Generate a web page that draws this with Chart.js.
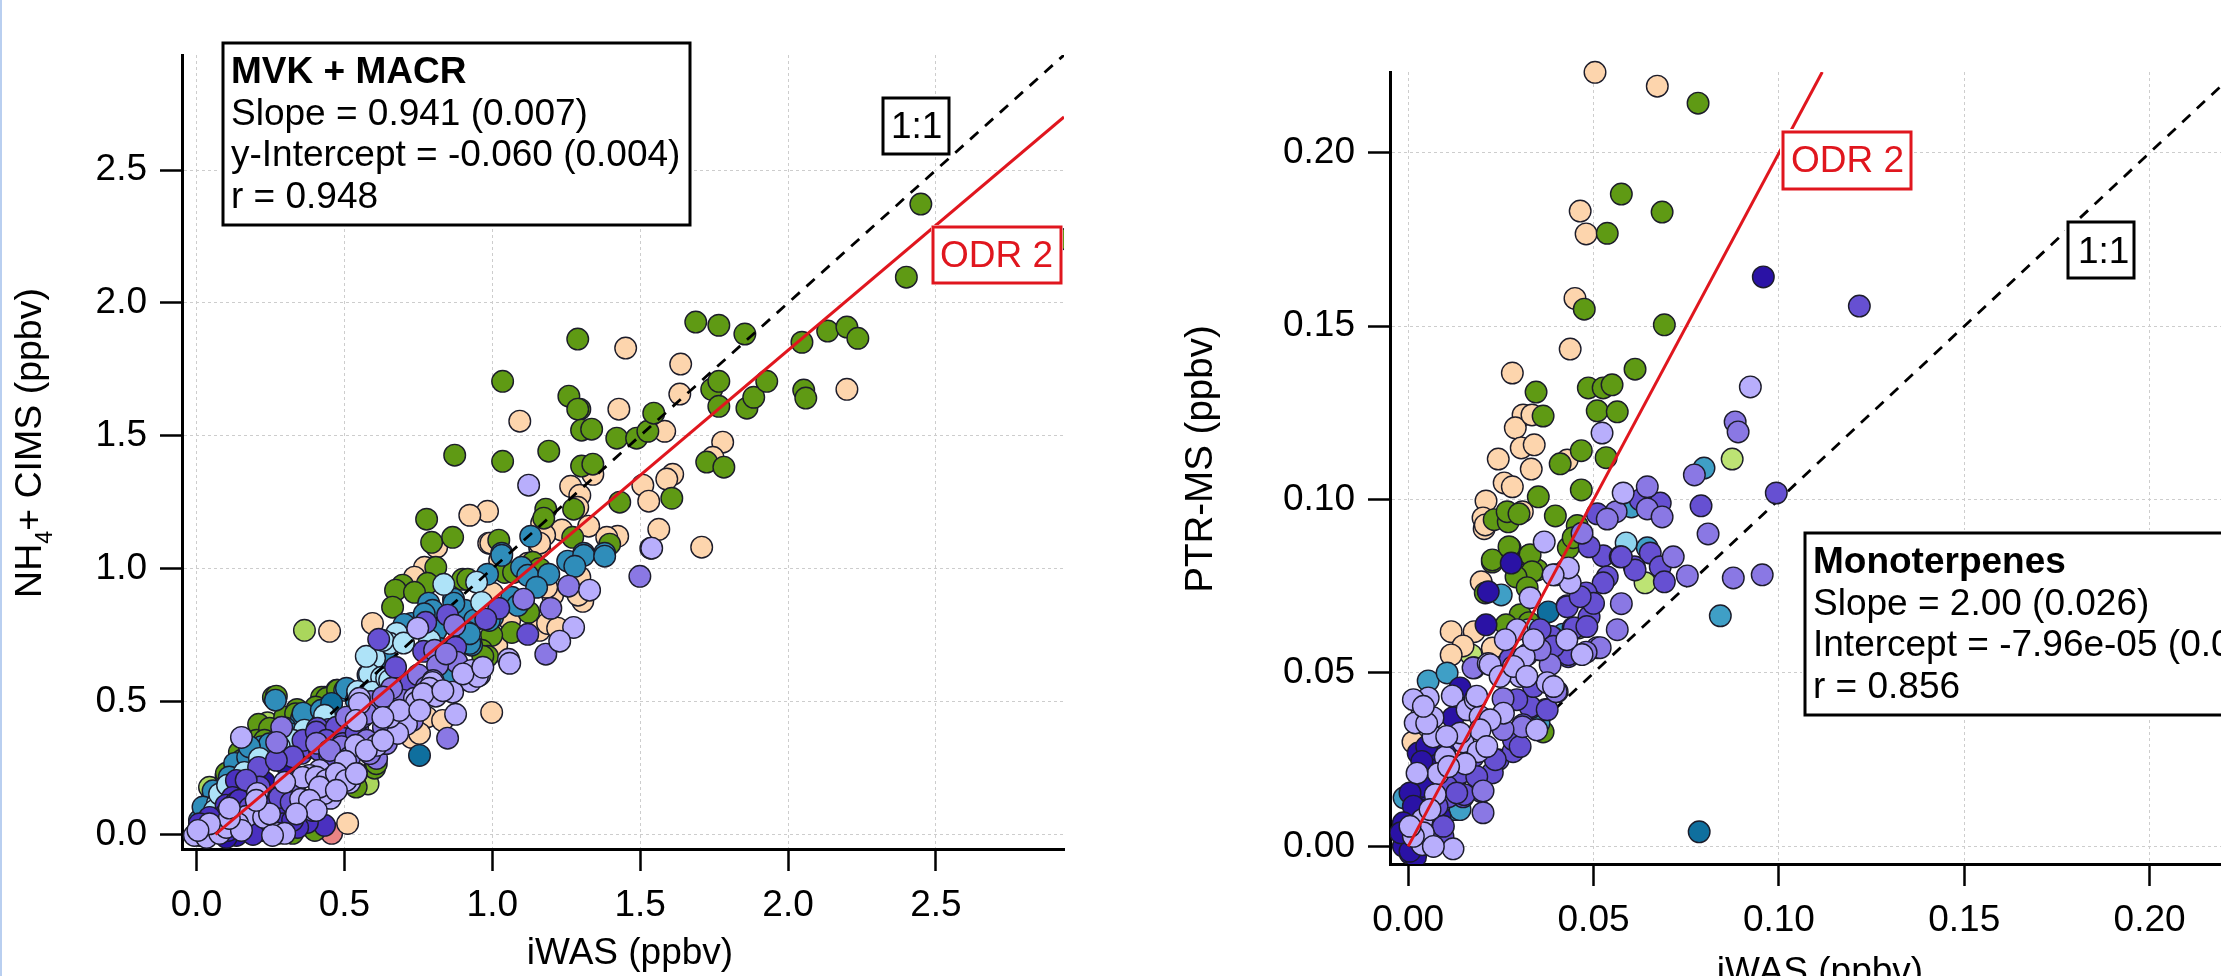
<!DOCTYPE html>
<html>
<head>
<meta charset="utf-8">
<title>iWAS comparison</title>
<script src="https://cdn.jsdelivr.net/npm/chart.js@4/dist/chart.umd.min.js"></script>
<style>
  html, body { margin: 0; padding: 0; width: 2221px; height: 976px; overflow: hidden; background: #fff; }
  canvas { position: absolute; top: 0; }
  #left-panel { left: 0; }
  #right-panel { left: 1130px; }
  #page-edge { position: absolute; left: 0; top: 0; width: 2px; height: 976px; background: #b9cff0; z-index: 2; }
</style>
</head>
<body>
<div id="page-edge"></div>
<canvas id="left-panel" width="1100" height="976"></canvas>
<canvas id="right-panel" width="1200" height="1020"></canvas>
<script>
// Left panel: MVK + MACR, [iWAS, NH4+ CIMS] in ppbv
const leftPink = [[0.0,0.004]];
const leftSalmon = [[0.457,0.004]];
const leftLightGreen = [[0.365,0.768],[0.044,0.177],[0.10,0.22],[0.17,0.34],[0.24,0.42],[0.58,0.19]];
const leftPeach = [[1.451,1.83],[1.637,1.77],[1.634,1.657],[1.428,1.6],[1.093,1.555],[1.583,1.517],[2.199,1.675],
  [1.779,1.476],[1.746,1.419],[1.34,1.355],[1.265,1.31],[1.296,1.276],[0.984,1.216],[1.509,1.314],[1.61,1.355],
  [1.59,1.337],[1.529,1.254],[1.289,1.231],[1.167,1.171],[1.235,1.145],[1.177,1.126],[1.326,1.16],[1.424,1.122],
  [1.387,1.118],[1.563,1.148],[1.708,1.081],[0.988,1.096],[1.16,1.081],[0.45,0.764],[0.924,1.201],[1.16,1.096],
  [0.995,1.096],[0.812,1.081],[0.771,1.005],[0.737,0.968],[0.595,0.794],[1.306,0.877],[1.296,0.968],[1.204,0.9],
  [1.184,0.93],[1.16,0.768],[1.187,0.794],[1.221,0.776],[1.059,0.806],[1.015,0.712],[1.001,0.907],[1.025,1.032],
  [0.998,0.459],[0.511,0.041],[0.778,0.441],[0.832,0.429],[0.727,0.365],[0.754,0.38],[1.29,0.90],[1.12,1.02]];
const leftGreen = [[1.289,1.864],[1.035,1.705],[1.688,1.928],[1.766,1.916],[1.854,1.883],[2.047,1.852],[2.134,1.894],
  [2.199,1.909],[2.236,1.867],[1.259,1.649],[1.296,1.6],[1.289,1.6],[1.302,1.521],[1.336,1.525],[1.421,1.491],
  [1.488,1.491],[1.526,1.517],[1.546,1.585],[1.035,1.404],[1.191,1.442],[1.302,1.386],[1.34,1.393],[1.742,1.675],
  [1.766,1.705],[1.766,1.611],[1.861,1.604],[1.884,1.645],[1.928,1.705],[2.053,1.672],[2.06,1.642],[1.725,1.401],
  [1.783,1.382],[1.607,1.265],[1.431,1.25],[1.181,1.224],[1.174,1.19],[1.275,1.224],[1.272,1.118],[1.022,1.107],
  [1.397,1.092],[2.449,2.372],[2.40,2.097],[2.943,2.24],[0.873,1.427],[0.778,1.186],[0.795,1.099],[0.866,1.118],
  [0.809,1.005],[0.781,0.945],[0.697,0.938],[0.673,0.919],[0.737,0.911],[0.663,0.855],[0.90,0.96],[0.917,0.96],
  [1.137,1.024],[1.16,1.0],[1.042,0.986],[1.072,0.986],[1.123,0.836],[1.066,0.76],[0.998,0.749],[0.964,0.693],
  [0.984,0.67],[0.433,0.516],[0.474,0.542],[0.26,0.516],[0.21,0.414],[0.298,0.441],[0.203,0.354],[0.247,0.399],
  [0.145,0.309],[0.101,0.23],[0.423,0.516],[0.44,0.512],[0.477,0.542],[0.372,0.448],[0.602,0.249],[0.535,0.192],
  [0.4,0.015],[0.325,0.004],[0.27,0.52],[0.34,0.47],[0.335,0.454],[0.403,0.479],[0.23,0.354],[0.153,0.279],
  [0.12,0.204],[0.968,0.67],[0.608,0.266],[0.54,0.178]];
const leftTeal = [[1.13,1.122],[1.032,1.058],[1.309,1.058],[1.38,1.058],[1.032,1.05],[0.984,0.979],[1.099,1.005],
  [1.12,0.975],[1.191,0.979],[1.15,0.93],[1.255,1.028],[1.309,1.05],[1.279,1.009],[1.38,1.047],[1.066,0.892],
  [1.086,0.862],[0.785,0.87],[0.869,0.885],[0.798,0.843],[0.907,0.843],[0.94,0.806],[1.001,0.817],[0.917,0.76],
  [0.93,0.712],[0.731,0.787],[0.501,0.542],[0.267,0.505],[0.129,0.267],[0.173,0.29],[0.355,0.437],[0.389,0.422],
  [0.507,0.55],[0.088,0.173],[0.051,0.128],[0.01,0.053],[0.727,0.794],[0.924,0.719],[0.866,0.606],[0.64,0.66],
  [0.58,0.60],[0.22,0.33],[0.30,0.40],[0.36,0.456],[0.422,0.467],[0.315,0.379],[0.247,0.341],[0.179,0.329],
  [0.111,0.216],[0.056,0.164],[0.022,0.103],[0.54,0.504],[0.608,0.567],[0.702,0.79],[0.77,0.83],[0.87,0.87],
  [0.81,0.767],[0.923,0.755],[0.99,0.805]];
const leftDarkTeal = [[0.754,0.297],[0.457,0.493],[0.82,0.70],[0.55,0.47]];
const leftLightBlue = [[0.836,0.941],[0.947,0.949],[0.964,0.873],[0.677,0.757],[0.653,0.719],[0.602,0.663],[0.585,0.602],
  [0.626,0.591],[0.545,0.535],[0.595,0.531],[0.788,0.73],[0.433,0.448],[0.365,0.392],[0.325,0.354],[0.213,0.286],
  [0.162,0.233],[0.545,0.538],[0.595,0.535],[0.071,0.117],[0.061,0.09],[0.643,0.587],[0.63,0.73],[0.574,0.67],
  [0.70,0.72],[0.653,0.58],[0.078,0.152],[0.105,0.185],[0.28,0.33]];
const leftDarkBlue = [[0.298,0.267],[0.491,0.29],[0.23,0.196],[0.196,0.192],[0.223,0.015],[0.135,-0.004],[0.257,0.128],
  [0.101,-0.011],[0.179,0.139],[0.24,0.11],[0.16,0.06],[0.20,0.09]];
const leftIndigo = [[0.433,0.034],[0.375,0.045],[0.342,0.026],[0.304,0.064],[0.281,0.079],[0.135,0.203],[0.122,0.139],
  [0.10,0.11],[0.16,0.07],[0.21,0.05],[0.26,0.03],[0.247,0.139],[0.292,0.09],[0.134,0.12],[0.1,0.077],[0.179,0.099],
  [0.247,0.04],[0.292,0.04],[0.325,0.053],[0.191,0.0],[0.107,0.015],[0.044,0.064],[0.01,0.04],[0.145,0.128]];
const leftViolet = [[0.616,0.734],[0.849,0.825],[1.022,0.851],[0.978,0.81],[1.12,0.753],[0.876,0.704],[0.768,0.689],
  [0.673,0.629],[0.724,0.569],[0.775,0.798],[0.447,0.395],[0.355,0.305],[0.21,0.252],[0.409,0.399],[0.484,0.38],
  [0.545,0.399],[0.382,0.328],[0.416,0.316],[0.281,0.139],[0.32,0.12],[0.24,0.06],[0.18,0.10],[0.45,0.30],
  [0.36,0.354],[0.405,0.385],[0.473,0.403],[0.439,0.354],[0.495,0.342],[0.54,0.38],[0.326,0.292],[0.27,0.279],
  [0.213,0.178],[0.168,0.204]];
const leftPurple = [[1.258,0.934],[1.106,0.885],[1.198,0.851],[1.499,0.971],[1.181,0.678],[0.805,0.693],[0.88,0.648],
  [0.815,0.636],[0.873,0.787],[0.849,0.362],[0.288,0.403],[0.271,0.346],[0.646,0.474],[0.632,0.403],[0.697,0.505],
  [0.609,0.286],[0.541,0.23],[0.507,0.441],[0.575,0.354],[0.406,0.343],[0.372,0.102],[0.392,0.09],[0.56,0.44],
  [0.75,0.60],[0.66,0.55],[0.59,0.50],[0.49,0.33],[0.34,0.20],[0.45,0.316],[0.518,0.29],[0.586,0.304],[0.642,0.342],
  [0.686,0.403],[0.73,0.429],[0.8,0.579],[0.844,0.679],[0.777,0.554],[0.698,0.441],[0.631,0.517],[0.574,0.454]];
const leftLavender = [[1.536,1.077],[1.123,1.314],[1.539,1.077],[1.329,0.919],[1.275,0.779],[1.228,0.727],[1.055,0.659],
  [1.059,0.644],[0.927,0.576],[0.93,0.617],[0.957,0.599],[0.866,0.535],[0.798,0.572],[0.809,0.523],[0.748,0.776],
  [0.788,0.55],[0.737,0.512],[0.551,0.512],[0.152,0.365],[0.551,0.493],[0.744,0.497],[0.809,0.52],[0.95,0.595],
  [0.71,0.414],[0.876,0.452],[0.68,0.38],[0.609,0.335],[0.538,0.335],[0.504,0.275],[0.416,0.241],[0.382,0.222],
  [0.359,0.215],[0.46,0.215],[0.298,0.196],[0.352,0.132],[0.453,0.136],[0.433,0.154],[0.518,0.196],[0.206,0.154],
  [0.169,0.068],[0.227,0.064],[0.139,0.041],[0.054,0.015],[0.02,0.004],[0.01,-0.004],[-0.007,-0.004],[0.034,-0.011],
  [0.078,0.004],[0.101,0.026],[0.152,0.015],[0.274,0.004],[0.298,0.004],[0.257,-0.004],[0.405,0.216],[0.439,0.203],
  [0.473,0.229],[0.506,0.203],[0.54,0.229],[0.574,0.316],[0.63,0.354],[0.653,0.441],[0.686,0.467],[0.766,0.529],
  [0.833,0.541],[0.901,0.604],[0.968,0.629],[0.755,0.467],[0.63,0.44],[0.54,0.429],[0.416,0.178],[0.473,0.166],
  [0.382,0.128],[0.405,0.09],[0.338,0.077],[0.247,0.077],[0.202,0.128],[0.111,0.06],[0.111,0.099],[0.044,0.04],
  [0.005,0.015]];
const leftOneToOne = [[0.0,0.0],[2.933,2.933]];
const leftOdr = [[0.064,0.0],[2.933,2.70]];
const leftXTicks = [0, 0.5, 1.0, 1.5, 2.0, 2.5];
const leftYTicks = [0, 0.5, 1.0, 1.5, 2.0, 2.5];

// Right panel: Monoterpenes, [iWAS, PTR-MS] in ppbv
const rightLightGreen = [[0.0874,0.1117],[0.0639,0.076],[0.017,0.0552],[0.0371,0.0395],[0.046,0.063]];
const rightPeach = [[0.0504,0.2232],[0.0672,0.2192],[0.0464,0.1832],[0.048,0.1766],[0.045,0.158],[0.0437,0.1434],[0.0281,0.1365],
  [0.031,0.1244],[0.0289,0.1207],[0.0305,0.1149],[0.034,0.1158],[0.0243,0.1117],[0.0332,0.1088],[0.0429,0.1114],
  [0.0259,0.1048],[0.0281,0.1037],[0.021,0.0996],[0.0308,0.0965],[0.0205,0.0916],[0.0202,0.0947],[0.0334,0.1244],
  [0.0208,0.0927],[0.0197,0.0763],[0.0116,0.0619],[0.0178,0.0619],[0.0148,0.0578],[0.0116,0.0552],[0.0227,0.0572],
  [0.0013,0.0301]];
const rightGreen = [[0.0782,0.2143],[0.0575,0.1881],[0.0685,0.1829],[0.0537,0.1768],[0.0475,0.1549],[0.0691,0.1504],[0.0612,0.1376],
  [0.0345,0.131],[0.0486,0.1322],[0.0526,0.1322],[0.055,0.1331],[0.0364,0.1241],[0.051,0.1256],[0.0564,0.1253],
  [0.0467,0.1141],[0.0534,0.1121],[0.041,0.1103],[0.0351,0.1008],[0.0467,0.1028],[0.0397,0.0953],[0.0456,0.0925],
  [0.0232,0.0942],[0.027,0.0936],[0.0267,0.0965],[0.0299,0.0959],[0.0432,0.0861],[0.0445,0.089],[0.0275,0.0861],
  [0.0326,0.0838],[0.0227,0.082],[0.0348,0.0797],[0.0208,0.0731],[0.0227,0.0826],[0.0329,0.0841],[0.0272,0.0864],
  [0.0334,0.0792],[0.0291,0.0777],[0.0321,0.0746],[0.0302,0.0668],[0.0264,0.0639],[0.0326,0.0645],[0.0364,0.033]];
const rightTeal = [[0.0798,0.1091],[0.0602,0.0979],[0.0645,0.0861],[0.0842,0.0665],[0.0251,0.0725],[0.0054,0.0477],[0.0105,0.05],
  [0.0178,0.0515],[0.0353,0.0356],[-0.0011,0.014],[0.0127,0.0106],[0.0418,0.0612],[0.014,0.0106]];
const rightDarkTeal = [[0.0785,0.0042],[0.0378,0.0676],[0.0,0.006]];
const rightLightBlue = [[0.0588,0.0875],[0.0325,0.0625]];
const rightDarkBlue = [[0.0958,0.1642],[0.0278,0.0817],[0.0216,0.0734],[0.021,0.0639],[0.0121,0.0371],[0.014,0.0457],[0.0051,0.0258],
  [0.01,0.0284],[0.0027,0.0269],[0.0059,0.0221],[0.0024,0.0135],[0.0051,0.0163],[0.0086,0.0086],[0.0027,0.0106],
  [-0.001,0.002],[0.0005,-0.002],[0.002,-0.003],[-0.0005,0.005],[0.001,0.008],[0.0041,0.0173],[0.0005,0.0154],
  [0.0014,0.0116],[-0.0013,0.0068],[-0.0013,0.0001],[0.0005,-0.0014],[-0.002,0.0039],[0.005,0.0288],[0.0037,0.0245]];
const rightViolet = [[0.1217,0.1558],[0.0993,0.1019],[0.079,0.0982],[0.051,0.0959],[0.068,0.099],[0.0626,0.0999],[0.0653,0.0846],
  [0.0526,0.0838],[0.0572,0.0835],[0.0488,0.0864],[0.061,0.0806],[0.068,0.0806],[0.0691,0.0763],[0.0612,0.0797],
  [0.0575,0.0835],[0.0537,0.0777],[0.0526,0.076],[0.048,0.0731],[0.0429,0.0694],[0.0332,0.04],[0.0432,0.0547],
  [0.0388,0.0604],[0.0445,0.063],[0.0429,0.0691],[0.0243,0.025],[0.0227,0.0212],[0.0148,0.0143],[0.0283,0.0273],
  [0.0108,0.0143],[0.0094,0.0028],[0.0127,0.0193],[0.0321,0.0553],[0.0378,0.0567],[0.0432,0.0553],[0.0386,0.0605],
  [0.0448,0.063],[0.0488,0.0662],[0.0264,0.0422],[0.0329,0.0403],[0.031,0.0351],[0.0375,0.0394],[0.0235,0.025],
  [0.0197,0.0158],[0.0151,0.0149],[0.0176,0.0259],[0.014,0.0211],[0.0185,0.0201],[0.0104,0.0173],[0.0078,0.0116],
  [0.0131,0.0154],[0.0059,0.0039],[0.0095,0.0058],[0.0284,0.0307],[0.0302,0.0288],[0.0338,0.0461],[0.0293,0.0423],
  [0.0275,0.054],[0.0356,0.0625],[0.0392,0.0577],[0.0482,0.0634],[0.05,0.0701],[0.0464,0.072]];
const rightPurple = [[0.0882,0.1224],[0.089,0.1195],[0.0772,0.1071],[0.0645,0.1037],[0.0561,0.0965],[0.0537,0.0944],[0.0645,0.0973],
  [0.0685,0.095],[0.0809,0.0901],[0.0715,0.0835],[0.0469,0.0903],[0.0955,0.0783],[0.0877,0.0774],[0.0575,0.07],
  [0.0564,0.0625],[0.0753,0.078],[0.051,0.0573],[0.0402,0.0446],[0.0383,0.0524],[0.0308,0.0345],[0.0256,0.0426],
  [0.0202,0.016],[0.0202,0.0097],[0.0256,0.0337],[0.0356,0.0567],[0.0175,0.0515],[0.0518,0.0573],[0.048,0.056],
  [0.0399,0.0446]];
const rightLavender = [[0.0923,0.1325],[0.0523,0.1192],[0.058,0.1019],[0.0367,0.0878],[0.0397,0.0783],[0.0426,0.0797],[0.0437,0.076],
  [0.0432,0.0803],[0.0329,0.0717],[0.0391,0.0783],[0.0294,0.0625],[0.0262,0.0596],[0.0313,0.0547],[0.0216,0.0527],
  [0.0302,0.049],[0.0375,0.0472],[0.0119,0.0434],[0.0054,0.0428],[0.0038,0.0385],[0.0019,0.0356],[0.0067,0.0371],
  [0.0159,0.0394],[0.0181,0.0423],[0.0194,0.0374],[0.0067,0.0316],[0.01,0.0258],[0.0148,0.0301],[0.0189,0.0273],
  [0.0154,0.0238],[0.0081,0.021],[0.0073,0.0149],[0.0038,0.0077],[0.0038,0.0005],[0.0121,-0.0007],[0.0469,0.0553],
  [0.0221,0.0524],[0.0185,0.0433],[0.0248,0.049],[0.0284,0.0519],[0.032,0.049],[0.0257,0.0384],[0.0221,0.0365],
  [0.0194,0.0336],[0.014,0.0327],[0.0104,0.0317],[0.005,0.0355],[0.0014,0.0423],[0.0041,0.0404],[0.0109,0.023],
  [0.0024,0.0211],[0.0059,0.0106],[0.0041,0.0039],[0.0068,0.0],[0.0014,0.0029],[0.0005,0.0058],[0.0212,0.0288],
  [0.0347,0.0336],[0.0392,0.0461],[0.0338,0.0596],[0.0428,0.0596]];
const rightOneToOne = [[0.0,0.0],[0.2233,0.2233]];
const rightOdr = [[0.0,0.0],[0.1117,0.2233]];
const rightXTicks = [0, 0.05, 0.10, 0.15, 0.20];
const rightYTicks = [0, 0.05, 0.10, 0.15, 0.20];

const FONT = '"Liberation Sans", Arial, sans-serif';
const RED = '#e0161e';

function scatterLayer(points, color, clip) {
    const layer = {
        type: 'scatter',
        data: points.map(p => ({ x: p[0], y: p[1] })),
        backgroundColor: color,
        borderColor: '#1c1c2a',
        borderWidth: 1.4,
        pointRadius: 10.8
    };
    if (clip) layer.clip = clip;
    return layer;
}

function lineLayer(points, color, dash, width) {
    return {
        type: 'scatter',
        data: points.map(p => ({ x: p[0], y: p[1] })),
        showLine: true,
        pointRadius: 0,
        borderColor: color,
        borderWidth: width,
        borderDash: dash
    };
}

// Text boxes and axis titles, positions in canvas pixels
const panelText = {
    id: 'panelText',
    afterDraw(chart, args, opts) {
        const ctx = chart.ctx;
        ctx.save();
        opts.boxes.forEach(box => {
            ctx.fillStyle = '#fff';
            ctx.fillRect(box.x - box.margin, box.y - box.margin, box.w + box.margin * 2, box.h + box.margin * 2);
            ctx.strokeStyle = box.color;
            ctx.lineWidth = 3;
            ctx.strokeRect(box.x, box.y, box.w, box.h);
            ctx.fillStyle = box.color;
            ctx.textBaseline = 'alphabetic';
            ctx.textAlign = 'left';
            box.lines.forEach((line, i) => {
                ctx.font = (line.bold ? 'bold ' : '') + box.size + 'px ' + FONT;
                ctx.fillText(line.text, box.x + box.pad, box.first + i * box.leading);
            });
        });
        ctx.fillStyle = '#000';
        ctx.textBaseline = 'alphabetic';
        ctx.textAlign = 'center';
        ctx.font = '37px ' + FONT;
        ctx.fillText('iWAS (ppbv)', opts.xTitle.x, opts.xTitle.y);

        // rotated y title, pieces so the subscript can sit lower
        ctx.translate(opts.yTitle.x, opts.yTitle.y);
        ctx.rotate(-Math.PI / 2);
        ctx.textAlign = 'left';
        const size = opts.yTitle.size;
        const widths = opts.yTitle.parts.map(part => {
            ctx.font = (part.sub ? size * 0.62 : size) + 'px ' + FONT;
            return ctx.measureText(part.text).width;
        });
        let pos = -widths.reduce((a, b) => a + b, 0) / 2;
        opts.yTitle.parts.forEach((part, i) => {
            ctx.font = (part.sub ? size * 0.62 : size) + 'px ' + FONT;
            ctx.fillText(part.text, pos, part.sub ? size * 0.3 : 0);
            pos += widths[i];
        });
        ctx.restore();
    }
};

function buildPanel(canvasId, panel) {
    const canvas = document.getElementById(canvasId);
    const axis = (range, ticks, digits, extra) => Object.assign({
        type: 'linear',
        min: range[0],
        max: range[1],
        afterBuildTicks: scale => { scale.ticks = ticks.map(v => ({ value: v })); },
        grid: { color: '#cdcdcd', lineWidth: 1, tickColor: '#000', tickWidth: 2.5, tickLength: 22, tickBorderDash: [] },
        border: { display: true, color: '#000', width: 3, dash: [3, 3] },
        ticks: {
            color: '#000',
            padding: 13,
            font: { family: FONT, size: 37 },
            autoSkip: false,
            maxRotation: 0,
            callback: v => v.toFixed(digits)
        }
    }, extra);
    return new Chart(canvas.getContext('2d'), {
        data: { datasets: panel.layers.slice().reverse() }, // first dataset is drawn on top
        plugins: [panelText],
        options: {
            responsive: false,
            animation: false,
            layout: { padding: { top: panel.area.top, right: canvas.width - panel.area.right, left: 0, bottom: 0 } },
            plugins: { legend: { display: false }, tooltip: { enabled: false }, panelText: panel.text },
            scales: {
                x: axis(panel.xRange, panel.xTicks, panel.digits, {
                    afterFit: scale => { scale.height = canvas.height - panel.area.bottom; }
                }),
                y: axis(panel.yRange, panel.yTicks, panel.digits, {
                    afterFit: scale => { scale.width = panel.area.left; }
                })
            }
        }
    });
}

buildPanel('left-panel', {
    area: { left: 182, right: 1064, top: 55, bottom: 849 },
    xRange: [-0.049, 2.933],
    yRange: [-0.055, 2.933],
    xTicks: leftXTicks,
    yTicks: leftYTicks,
    digits: 1,
    layers: [
        scatterLayer(leftPink, '#f6bcb4'),
        scatterLayer(leftSalmon, '#e98484'),
        scatterLayer(leftLightGreen, '#aad65c'),
        scatterLayer(leftPeach, '#fdd5ad'),
        scatterLayer(leftGreen, '#5f9a14'),
        scatterLayer(leftTeal, '#2f8dba'),
        scatterLayer(leftDarkTeal, '#0f6f9e'),
        scatterLayer(leftLightBlue, '#aee3f8'),
        lineLayer(leftOneToOne, '#000', [11, 9], 2.8),
        scatterLayer(leftDarkBlue, '#2a12a5'),
        scatterLayer(leftIndigo, '#4a30c0'),
        scatterLayer(leftViolet, '#6650d2'),
        scatterLayer(leftPurple, '#8a78e4'),
        scatterLayer(leftLavender, '#b8aefc'),
        lineLayer(leftOdr, RED, [], 3)
    ],
    text: {
        boxes: [
            { x: 223, y: 43, w: 467, h: 182, margin: 3, color: '#000', size: 37, pad: 8, first: 83, leading: 41.7,
              lines: [{ text: 'MVK + MACR', bold: true }, { text: 'Slope = 0.941 (0.007)' },
                      { text: 'y-Intercept = -0.060 (0.004)' }, { text: 'r = 0.948' }] },
            { x: 883, y: 98, w: 66, h: 56, margin: 2, color: '#000', size: 37, pad: 8, first: 138, leading: 0,
              lines: [{ text: '1:1' }] },
            { x: 933, y: 227, w: 128, h: 56, margin: 2, color: RED, size: 37, pad: 7, first: 267, leading: 0,
              lines: [{ text: 'ODR 2' }] }
        ],
        xTitle: { x: 630, y: 964 },
        yTitle: { x: 41, y: 443, size: 37.5, parts: [{ text: 'NH' }, { text: '4', sub: true }, { text: '+ CIMS (ppbv)' }] }
    }
});

buildPanel('right-panel', {
    area: { left: 260, right: 1106, top: 72, bottom: 864 },
    xRange: [-0.0049, 0.2233],
    yRange: [-0.00508, 0.2233],
    xTicks: rightXTicks,
    yTicks: rightYTicks,
    digits: 2,
    layers: [
        scatterLayer(rightLightGreen, '#bde374'),
        scatterLayer(rightPeach, '#fdd5ad', { top: 20, left: 0, right: 0, bottom: 0 }),
        scatterLayer(rightGreen, '#5f9a14'),
        scatterLayer(rightTeal, '#3f9fc6'),
        scatterLayer(rightDarkTeal, '#0f6f9e'),
        scatterLayer(rightLightBlue, '#8ed4ee'),
        lineLayer(rightOneToOne, '#000', [11, 9], 2.8),
        scatterLayer(rightDarkBlue, '#2a12a5'),
        scatterLayer(rightViolet, '#6650d2'),
        scatterLayer(rightPurple, '#8a78e4'),
        scatterLayer(rightLavender, '#b8aefc'),
        lineLayer(rightOdr, RED, [], 3)
    ],
    text: {
        boxes: [
            { x: 653, y: 132, w: 128, h: 57, margin: 3, color: RED, size: 37, pad: 8, first: 172, leading: 0,
              lines: [{ text: 'ODR 2' }] },
            { x: 938, y: 222, w: 66, h: 56, margin: 3, color: '#000', size: 37, pad: 10, first: 263, leading: 0,
              lines: [{ text: '1:1' }] },
            { x: 675, y: 533, w: 520, h: 182, margin: 3, color: '#000', size: 37, pad: 8, first: 573, leading: 41.7,
              lines: [{ text: 'Monoterpenes', bold: true }, { text: 'Slope = 2.00 (0.026)' },
                      { text: 'Intercept = -7.96e-05 (0.0' }, { text: 'r = 0.856' }] }
        ],
        xTitle: { x: 690, y: 983 },
        yTitle: { x: 82, y: 459, size: 38.5, parts: [{ text: 'PTR-MS (ppbv)' }] }
    }
});
</script>
</body>
</html>
